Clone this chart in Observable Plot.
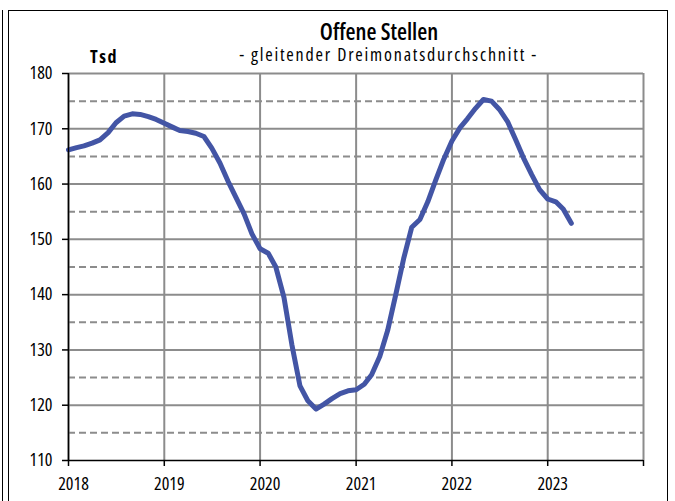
<!DOCTYPE html>
<html>
<head>
<meta charset="utf-8">
<script src="https://cdn.jsdelivr.net/npm/d3@7"></script>
<script src="https://cdn.jsdelivr.net/npm/@observablehq/plot@0.6"></script>
<style>
  html, body { margin: 0; padding: 0; background: #fff; overflow: hidden; }
  #wrap { position: relative; width: 675px; height: 501px; overflow: hidden;
          font-family: "Open Sans", sans-serif; font-stretch: 82%; }
  #frame { position: absolute; left: 8px; top: 10px; width: 660px; height: 520px;
           border: 1.5px solid #000; box-sizing: border-box; }
  #edge { position: absolute; left: 2px; top: 10px; width: 0; height: 520px;
          border-left: 1.5px solid #000; }
  #chart { position: absolute; left: 0; top: 0; }
  #chart svg { font-stretch: 82%; }
  .t { position: absolute; white-space: nowrap; color: #000; font-stretch: 82%; line-height: 1; }
  #title { left: 0; width: 758px; top: 20px; text-align: center; font-size: 23px; font-weight: 600; }
  #sub { left: 0; width: 777px; top: 45px; text-align: center; font-size: 18px; font-weight: 400; letter-spacing: 1.8px; }
  #unit { left: 90px; top: 47px; font-size: 18px; font-weight: 700; letter-spacing: 1.5px; }
</style>
</head>
<body>
<div id="wrap">
  <div id="edge"></div>
  <div id="frame"></div>
  <div id="chart"></div>
  <div class="t" id="title">Offene Stellen</div>
  <div class="t" id="sub">- gleitender Dreimonatsdurchschnitt -</div>
  <div class="t" id="unit">Tsd</div>
</div>
<script>
// Monthly values (Tsd), Jan 2018 .. Apr 2023
const values = [
  166.2, 166.6, 166.9, 167.4, 168.0, 169.3, 171.1, 172.3, 172.7, 172.6, 172.2, 171.7,
  171.0, 170.3, 169.7, 169.5, 169.2, 168.6, 166.5, 163.8, 160.5, 157.6, 154.6, 151.0,
  148.3, 147.5, 145.0, 139.5, 131.0, 123.5, 120.8, 119.3, 120.2, 121.2, 122.1, 122.6,
  122.8, 123.8, 125.5, 128.8, 133.5, 140.0, 146.5, 152.2, 153.6, 156.8, 160.8, 164.5,
  167.8, 170.2, 171.8, 173.7, 175.3, 175.0, 173.5, 171.3, 168.0, 164.7, 161.7, 159.0,
  157.3, 156.8, 155.5, 152.9
];
const startDate = new Date(Date.UTC(2018, 0, 1));
const endDate = new Date(Date.UTC(2024, 0, 1));
const yearTicks = [2018, 2019, 2020, 2021, 2022, 2023, 2024];
const yearLabels = ["2018", "2019", "2020", "2021", "2022", "2023", ""];
const yTicks = [110, 120, 130, 140, 150, 160, 170, 180];
const solidGrid = [120, 130, 140, 150, 160, 170, 180];
const dashedGrid = [115, 125, 135, 145, 155, 165, 175];

const data = values.map((v, i) => ({ date: d3.utcMonth.offset(startDate, i), value: v }));
const yearDates = yearTicks.map(y => new Date(Date.UTC(y, 0, 1)));
const yearLabel = d => yearLabels[yearTicks.indexOf(d.getUTCFullYear())];

const grey = "#8c8c8c";
const chart = Plot.plot({
  width: 675,
  height: 501,
  marginLeft: 68,
  marginRight: 32,
  marginTop: 73,
  marginBottom: 41,
  x: { type: "utc", domain: [startDate, endDate] },
  y: { domain: [110, 180] },
  style: {
    fontFamily: '"Open Sans", sans-serif',
    fontSize: "18px",
    color: "#000",
    background: "transparent",
    overflow: "visible"
  },
  marks: [
    Plot.ruleY(dashedGrid, { stroke: grey, strokeWidth: 2, strokeDasharray: "7,4" }),
    Plot.ruleY(solidGrid, { stroke: grey, strokeWidth: 2 }),
    Plot.ruleX(yearDates, { stroke: grey, strokeWidth: 2 }),
    Plot.line(data, { x: "date", y: "value", stroke: "#4355a5", strokeWidth: 5,
                      strokeLinejoin: "round", strokeLinecap: "round" }),
    Plot.axisY({ ticks: yTicks, tickSize: 6, tickPadding: 10, tickFormat: d => String(d),
                 label: null, fontSize: 18, strokeWidth: 1.5 }),
    // tick marks only
    Plot.axisX({ ticks: yearDates, tickSize: 6, tickFormat: () => "", label: null, strokeWidth: 1.5 }),
    // labels only, nudged right as in the original
    Plot.axisX({ ticks: yearDates, tickSize: 0, tickPadding: 17, dx: 5, tickFormat: yearLabel,
                 label: null, fontSize: 18 }),
    Plot.ruleX([startDate], { stroke: "#000", strokeWidth: 1.5 }),
    Plot.ruleY([110], { stroke: "#000", strokeWidth: 1.5 })
  ]
});
document.getElementById("chart").appendChild(chart);
</script>
</body>
</html>
